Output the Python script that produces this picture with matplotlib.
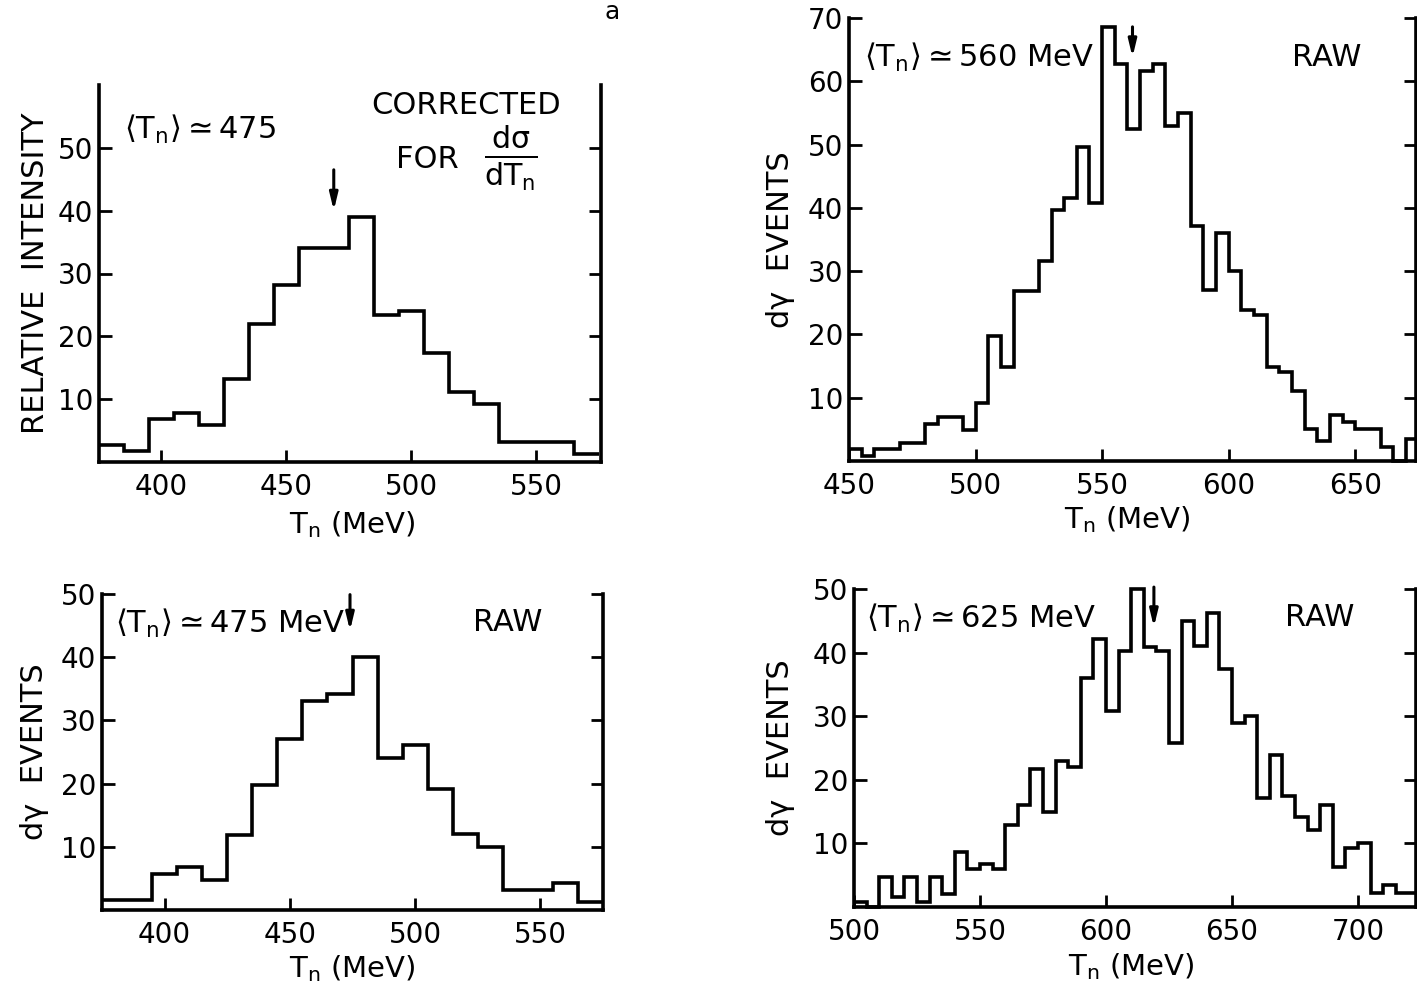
import matplotlib
matplotlib.use("Agg")
import matplotlib.pyplot as plt

plt.rcParams['font.family'] = ['DejaVu Sans']
plt.rcParams['mathtext.default'] = 'regular'

# ---------------- data ----------------
edges1 = [375, 385, 395, 405, 415, 425, 435, 445, 455, 465, 475,
          485, 495, 505, 515, 525, 535, 545, 555, 565, 575]
vals1 = [2.7, 1.8, 6.9, 7.8, 5.9, 13.2, 22.0, 28.2, 34.1, 34.1,
         39.0, 23.4, 24.1, 17.3, 11.1, 9.2, 3.2, 3.2, 3.2, 1.3]

edges2 = list(range(450, 675, 5)) + [674]
vals2 = [1.9, 0.8, 1.9, 1.9, 2.8, 2.8, 5.8, 6.9, 6.9, 4.9,
         9.2, 19.7, 14.9, 26.8, 26.8, 31.6, 39.6, 41.6, 49.6, 40.8,
         68.6, 62.7, 52.5, 61.7, 62.8, 52.9, 55.0, 37.2, 27.0, 36.0,
         30.0, 23.9, 23.0, 14.9, 14.0, 11.1, 5.0, 3.1, 7.2, 6.2,
         5.1, 5.1, 2.2, 0.0, 3.4]

edges3 = [375, 385, 395, 405, 415, 425, 435, 445, 455, 465, 475,
          485, 495, 505, 515, 525, 535, 545, 555, 565, 575]
vals3 = [1.6, 1.6, 5.7, 6.8, 4.8, 11.8, 19.7, 27.1, 33.0, 34.1,
         40.0, 24.1, 26.1, 19.2, 12.1, 10.0, 3.1, 3.1, 4.2, 1.2]

edges4 = list(range(500, 720, 5)) + [720, 723]
vals4 = [0.8, 0.0, 4.7, 1.6, 4.7, 0.8, 4.7, 2.1, 8.7, 5.9,
         6.8, 5.9, 12.9, 16.0, 21.7, 15.0, 22.9, 22.0, 36.0, 42.1,
         30.8, 40.3, 50.0, 40.9, 40.3, 25.8, 45.0, 41.0, 46.2, 37.4,
         28.9, 30.1, 17.1, 23.9, 17.4, 14.1, 12.1, 16.1, 6.3, 9.2,
         10.1, 2.2, 3.4, 2.2, 2.2]

xticks1 = [400, 450, 500, 550]
xticks2 = [450, 500, 550, 600, 650]
xticks3 = [400, 450, 500, 550]
xticks4 = [500, 550, 600, 650, 700]
yticks1 = [10, 20, 30, 40, 50]
yticks2 = [10, 20, 30, 40, 50, 60, 70]
yticks3 = [10, 20, 30, 40, 50]
yticks4 = [10, 20, 30, 40, 50]

mean_labels = [r"$\langle T_n\rangle\simeq$475",
               r"$\langle T_n\rangle\simeq$560 MeV",
               r"$\langle T_n\rangle\simeq$475 MeV",
               r"$\langle T_n\rangle\simeq$625 MeV"]
arrow_x = [469, 562, 474, 619]
arrow_top = [46.5, 68.6, 49.9, 50.3]
arrow_tip = [40, 63.8, 44.2, 44.0]

W, H = 1417, 989
fig = plt.figure(figsize=(W / 100, H / 100), dpi=100)


def box(l, r, t, b):
    return [l / W, 1 - b / H, (r - l) / W, (b - t) / H]


LW = 2.6
FS = 20
TFS = 22

panels = [
    dict(rect=box(99, 601, 85, 462), edges=edges1, vals=vals1, xlim=(375, 576), ylim=(0, 60),
         xt=xticks1, yt=yticks1, ylabel="RELATIVE  INTENSITY", ylc=(-0.098, 0.5), xlc=(0.505, -0.125)),
    dict(rect=box(849, 1416, 18, 461), edges=edges2, vals=vals2, xlim=(450, 674), ylim=(0, 70),
         xt=xticks2, yt=yticks2, ylabel="dγ  EVENTS", ylc=(-0.095, 0.5), xlc=(0.49, -0.097)),
    dict(rect=box(102, 603, 594, 910), edges=edges3, vals=vals3, xlim=(375, 575), ylim=(0, 50),
         xt=xticks3, yt=yticks3, ylabel="dγ  EVENTS", ylc=(-0.106, 0.5), xlc=(0.5, -0.136)),
    dict(rect=box(854, 1416, 589, 907), edges=edges4, vals=vals4, xlim=(500, 723), ylim=(0, 50),
         xt=xticks4, yt=yticks4, ylabel="dγ  EVENTS", ylc=(-0.105, 0.5), xlc=(0.493, -0.138)),
]

axes = []
for i, p in enumerate(panels):
    ax = fig.add_axes(p['rect'])
    axes.append(ax)
    ax.stairs(p['vals'], p['edges'], baseline=None, color='k', lw=LW, clip_on=False)
    ax.set_xlim(*p['xlim'])
    ax.set_ylim(*p['ylim'])
    ax.set_xticks(p['xt'])
    ax.set_yticks(p['yt'])
    ax.spines['top'].set_visible(False)
    for s in ('left', 'right', 'bottom'):
        ax.spines[s].set_linewidth(LW)
    ax.tick_params(axis='both', which='major', direction='in', length=9, width=2,
                   labelsize=FS, pad=5)
    ax.tick_params(axis='y', right=True, left=True, labelright=False, pad=4)
    ax.tick_params(axis='x', top=False, pad=8)
    ax.set_ylabel(p['ylabel'], fontsize=FS + 2)
    ax.yaxis.set_label_coords(*p['ylc'])
    ax.set_xlabel(r"$T_n$ (MeV)", fontsize=FS + 1)
    ax.xaxis.set_label_coords(*p['xlc'])
    ax.annotate("", xy=(arrow_x[i], arrow_tip[i]), xytext=(arrow_x[i], arrow_top[i]),
                arrowprops=dict(arrowstyle='-|>,head_width=0.24,head_length=1.0',
                                lw=2.2, color='k', shrinkA=0, shrinkB=0))

ax1, ax2, ax3, ax4 = axes
ax1.text(385, 52.9, mean_labels[0], fontsize=TFS, va='center', ha='left')
ax1.text(484, 56.8, "CORRECTED", fontsize=TFS, va='center', ha='left')
ax1.text(494, 48.2, "FOR", fontsize=TFS, va='center', ha='left')
ax1.text(540, 48.3, r"$\frac{d\sigma}{dT_n}$", fontsize=TFS + 9, va='center', ha='center')

ax2.text(456, 63.8, mean_labels[1], fontsize=TFS, va='center', ha='left')
ax2.text(625, 63.8, "RAW", fontsize=TFS, va='center', ha='left')

ax3.text(380, 45.3, mean_labels[2], fontsize=TFS, va='center', ha='left')
ax3.text(523, 45.5, "RAW", fontsize=TFS, va='center', ha='left')

ax4.text(504.6, 45.3, mean_labels[3], fontsize=TFS, va='center', ha='left')
ax4.text(671, 45.5, "RAW", fontsize=TFS, va='center', ha='left')

fig.text(612 / W, 1.0, "a", fontsize=FS - 2, ha='center', va='top')

fig.savefig("out.png", dpi=100)
